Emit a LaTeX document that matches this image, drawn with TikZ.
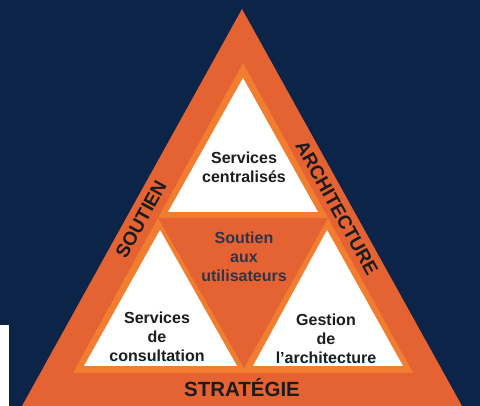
\documentclass[tikz,border=0pt]{standalone}
\usepackage{fontspec}
\setmainfont{Liberation Sans}
\definecolor{navy}{RGB}{11,36,71}
\definecolor{mainor}{RGB}{229,99,50}
\definecolor{lightor}{RGB}{241,126,48}
\definecolor{txt}{RGB}{28,28,30}
\definecolor{midtxt}{RGB}{48,52,72}
\begin{document}
\begin{tikzpicture}[x=1pt,y=-1pt,
  lbl/.style={font=\fontsize{16}{19}\selectfont\bfseries, text=txt, align=center, inner sep=0pt},
  band/.style={font=\fontsize{19}{22}\selectfont\bfseries, text=txt, inner sep=0pt}]
\useasboundingbox (0,0) rectangle (480,406);
\fill[navy] (0,0) rectangle (480,406);
\fill[white] (0,325) rectangle (9,406);
% outer triangle
\fill[mainor] (242,9) -- (462,406) -- (22,406) -- cycle;
% light orange inner triangle
\fill[lightor] (243,63) -- (413,373) -- (73,373) -- cycle;
% white triangles
\fill[white] (243,78) -- (318,212) -- (168,212) -- cycle;
\fill[white] (160,230) -- (237,366) -- (84,366) -- cycle;
\fill[white] (327,230) -- (403,366) -- (253,366) -- cycle;
% middle inverted triangle
\fill[mainor] (158,218) -- (328,218) -- (244,368) -- cycle;
% texts
\node[lbl] (top) at (244,167) {Services\\centralisés};
\node[lbl, text=midtxt] (mid) at (244,257) {Soutien\\aux\\utilisateurs};
\node[lbl] (bl) at (157,337) {Services\\de\\consultation};
\node[lbl] (br) at (326,339) {Gestion\\de\\l’architecture};
\node[band, rotate=61] (soutien) at (141,219) {SOUTIEN};
\node[band, rotate=-61] (arch) at (337,208) {ARCHITECTURE};
\node[font=\fontsize{20.5}{24}\selectfont\bfseries, text=txt, inner sep=0pt] (strat) at (242,388) {STRATÉGIE};
\end{tikzpicture}
\end{document}
